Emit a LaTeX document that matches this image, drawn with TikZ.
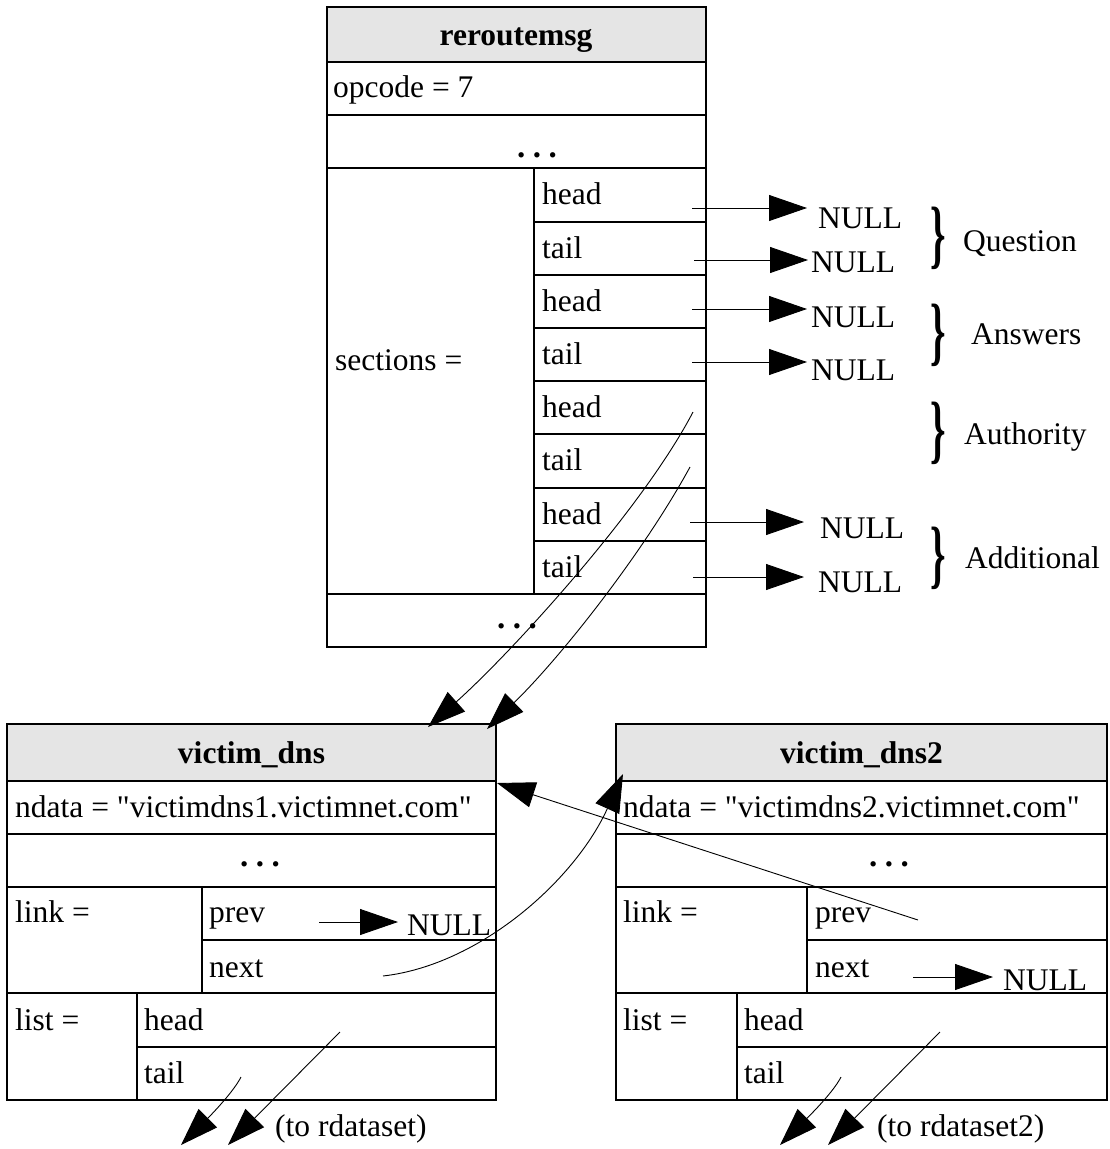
\documentclass[tikz,border=0pt]{standalone}
\usepackage{fontspec}
\usepackage{graphicx}
\setmainfont{Liberation Serif}[Ligatures=TeXOff]
\usetikzlibrary{arrows.meta}

\newcommand\tridots{\textbf{.}\hspace{7.6pt}\textbf{.}\hspace{7.6pt}\textbf{.}}
\newcommand\bigbrace{\scalebox{1.25}[2.4]{\bfseries\}}}

\begin{document}
\begin{tikzpicture}[x=1pt,y=-1pt,
  box/.style={draw=black, line width=1.3pt},
  hdr/.style={fill=black!10, draw=black, line width=1.3pt},
  lbl/.style={anchor=base west, inner sep=0pt, font=\fontsize{31.5}{36}\selectfont},
  ttl/.style={anchor=base, inner sep=0pt, font=\fontsize{31.5}{36}\selectfont\bfseries},
  dts/.style={anchor=base, inner sep=0pt, font=\fontsize{33}{36}\selectfont},
  brc/.style={anchor=center, inner sep=0pt, font=\fontsize{31.5}{36}\selectfont},
  conn/.style={line width=0.9pt, -{Triangle[length=38pt,width=26pt]}}]

\fill[white] (0,0) rectangle (1109,1149);
\useasboundingbox (0,0) rectangle (1109,1149);

% ---------- reroutemsg ----------
\draw[hdr] (327,7) rectangle (706,62);
\draw[box] (327,62) rectangle (706,647);
\foreach \yy in {115,168,594} \draw[box] (327,\yy) -- (706,\yy);
\draw[box] (534,168) -- (534,594);
\foreach \yy in {222,275,328,381,434,488,541} \draw[box] (534,\yy) -- (706,\yy);

\node[ttl] (rtitle) at (516,45) {reroutemsg};
\node[lbl] (opcode) at (333,97) {opcode = 7};
\node[dts] (rdotsA) at (537,157) {\tridots};
\node[lbl] (sect) at (335,370) {sections =};
\node[dts] (rdotsB) at (517,628) {\tridots};

\node[lbl] (qh) at (542,204.5) {head};
\node[lbl] (qt) at (542,258.5) {tail};
\node[lbl] (ah) at (542,311.5) {head};
\node[lbl] (at) at (542,364.5) {tail};
\node[lbl] (uh) at (542,417.5) {head};
\node[lbl] (ut) at (542,470.5) {tail};
\node[lbl] (dh) at (542,524.5) {head};
\node[lbl] (dt) at (542,577.5) {tail};

% pointer ends and NULL targets
\coordinate (qhs) at (692,208); \coordinate (qhe) at (807,208);
\coordinate (qts) at (694,260); \coordinate (qte) at (808,260);
\coordinate (ahs) at (692,309); \coordinate (ahe) at (807,309);
\coordinate (ats) at (692,362); \coordinate (ate) at (807,362);
\coordinate (dhs) at (690,522); \coordinate (dhe) at (804,522);
\coordinate (dts) at (693,577); \coordinate (dte) at (804,577);

\node[lbl] (nq1) at (818,228) {NULL};
\node[lbl] (nq2) at (811,272) {NULL};
\node[lbl] (na1) at (811,327) {NULL};
\node[lbl] (na2) at (811,380) {NULL};
\node[lbl] (nd1) at (820,538) {NULL};
\node[lbl] (nd2) at (818,592) {NULL};

\draw[conn] (qhs) -- (qhe);
\draw[conn] (qts) -- (qte);
\draw[conn] (ahs) -- (ahe);
\draw[conn] (ats) -- (ate);
\draw[conn] (dhs) -- (dhe);
\draw[conn] (dts) -- (dte);

% section braces
\node[brc] (bq) at (938,238) {\bigbrace};
\node[brc] (ba) at (938,335) {\bigbrace};
\node[brc] (bu) at (938,433) {\bigbrace};
\node[brc] (bd) at (938,558) {\bigbrace};
\node[lbl] (lq) at (963,251) {Question};
\node[lbl] (la) at (971,344) {Answers};
\node[lbl] (lu) at (964,444) {Authority};
\node[lbl] (ld) at (965,568) {Additional};

% ---------- victim_dns ----------
\draw[hdr] (7,724) rectangle (496,781);
\draw[box] (7,781) rectangle (496,1100);
\foreach \yy in {834,887,993} \draw[box] (7,\yy) -- (496,\yy);
\draw[box] (202,887) -- (202,993);
\draw[box] (202,940) -- (496,940);
\draw[box] (137,993) -- (137,1100);
\draw[box] (137,1047) -- (496,1047);

\node[ttl] (vtitle) at (251.5,763) {victim\_dns};
\node[lbl] (vndata) at (15,817) {ndata = "victimdns1.victimnet.com"};
\node[dts] (vdots) at (260,866) {\tridots};
\node[lbl] (vlink) at (15,922) {link =};
\node[lbl] (vprev) at (209,922) {prev};
\node[lbl] (vnext) at (209,977) {next};
\node[lbl] (vlist) at (15,1030) {list =};
\node[lbl] (vhead) at (144,1030) {head};
\node[lbl] (vtail) at (144,1083) {tail};
\node[lbl] (vnull) at (407,935) {NULL};
\node[lbl] (vrds) at (275,1136) {(to rdataset)};

% ---------- victim_dns2 ----------
\draw[hdr] (616,724) rectangle (1107,781);
\draw[box] (616,781) rectangle (1107,1100);
\foreach \yy in {834,887,993} \draw[box] (616,\yy) -- (1107,\yy);
\draw[box] (807,887) -- (807,993);
\draw[box] (807,940) -- (1107,940);
\draw[box] (737,993) -- (737,1100);
\draw[box] (737,1047) -- (1107,1047);

\node[ttl] (wtitle) at (861.5,763) {victim\_dns2};
\node[lbl] (wndata) at (623,817) {ndata = "victimdns2.victimnet.com"};
\node[dts] (wdots) at (889,866) {\tridots};
\node[lbl] (wlink) at (623,922) {link =};
\node[lbl] (wprev) at (815,922) {prev};
\node[lbl] (wnext) at (815,977) {next};
\node[lbl] (wlist) at (623,1030) {list =};
\node[lbl] (whead) at (744,1030) {head};
\node[lbl] (wtail) at (744,1083) {tail};
\node[lbl] (wnull) at (1003,990) {NULL};
\node[lbl] (wrds) at (877,1136) {(to rdataset2)};

% ---------- pointers between records ----------
\coordinate (uhs) at (693,412);  \coordinate (vin1) at (428,727);
\coordinate (uts) at (690,467);  \coordinate (vin2) at (487,729);
\draw[conn] (uhs) .. controls (642,510) and (510,654) .. (vin1);
\draw[conn] (uts) .. controls (642,555) and (559,659) .. (vin2);

\coordinate (vps) at (319,922); \coordinate (vpe) at (398,922);
\draw[conn] (vps) -- (vpe);
\coordinate (vns) at (383,976); \coordinate (win) at (623,774);
\draw[conn] (vns) .. controls (480,965) and (575,880) .. (win);

\coordinate (wps) at (918,920); \coordinate (vback) at (497,783);
\draw[conn] (wps) -- (vback);
\coordinate (wns) at (913,977); \coordinate (wne) at (993,977);
\draw[conn] (wns) -- (wne);

\coordinate (vhs) at (340,1032); \coordinate (vhe) at (228,1145);
\coordinate (vts) at (241,1077); \coordinate (vte) at (181,1145);
\draw[conn] (vhs) -- (vhe);
\draw[conn] (vts) .. controls (232,1095) and (200,1126) .. (vte);

\coordinate (whs) at (940,1032); \coordinate (whe) at (828,1145);
\coordinate (wts) at (841,1077); \coordinate (wte) at (780,1145);
\draw[conn] (whs) -- (whe);
\draw[conn] (wts) .. controls (832,1095) and (799,1126) .. (wte);

\end{tikzpicture}
\end{document}
